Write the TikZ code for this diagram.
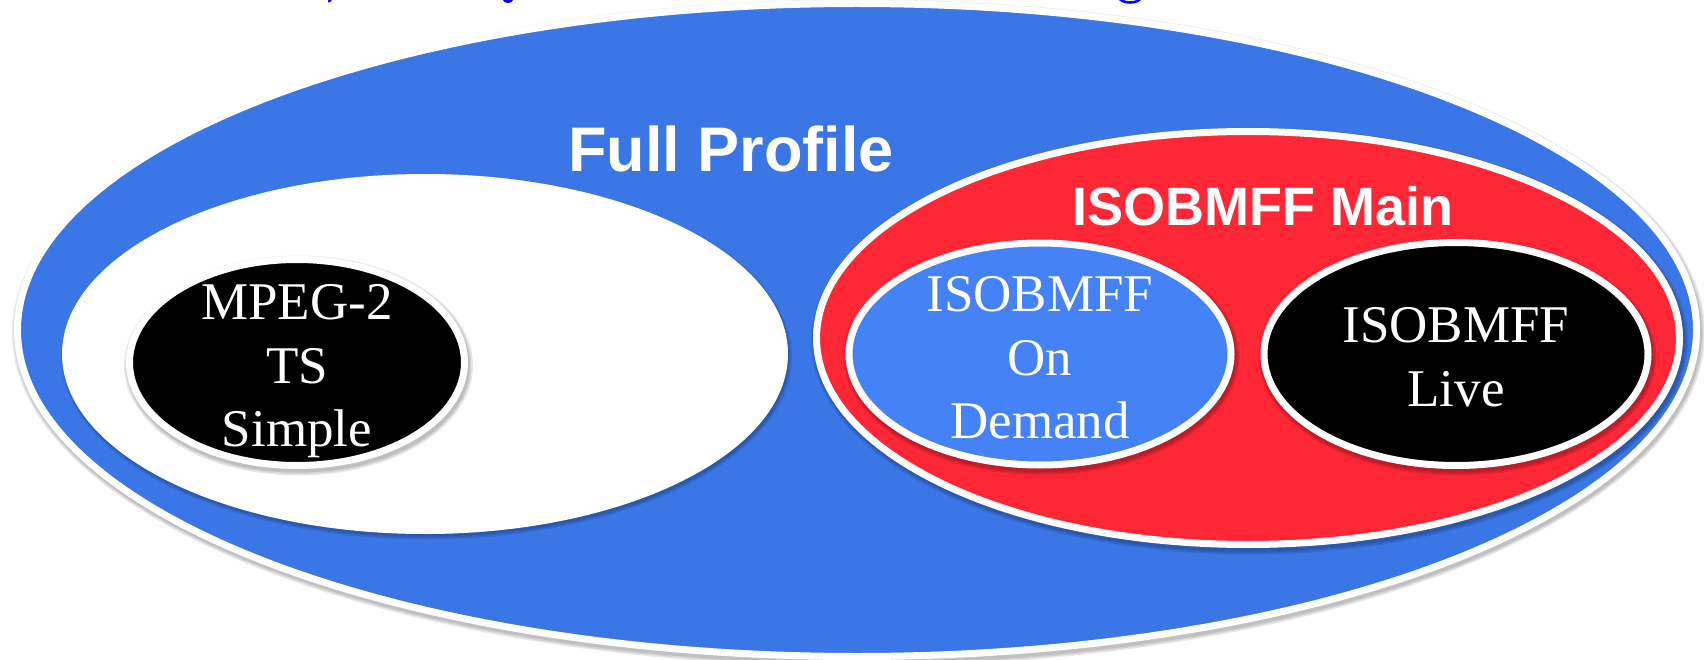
\documentclass[tikz,border=0pt]{standalone}
\usepackage{fontspec}
\setmainfont{Liberation Serif}
\newfontfamily\headfont{Liberation Sans}
\usetikzlibrary{shapes.geometric}

\definecolor{outerblue}{RGB}{58,118,230}
\definecolor{mainred}{RGB}{255,38,54}
\definecolor{demandblue}{RGB}{69,129,247}
\definecolor{titleblue}{RGB}{10,10,240}

% soft shadow under an ellipse: centre x, centre y, outer x radius, outer y radius
\newcommand\softshade[4]{%
  \foreach \g in {0.5,2,3.5}{%
    \fill[black, opacity=0.09] (#1+1.5,#2+3) ellipse [x radius=#3+\g, y radius=#4+\g];}}

\tikzset{
  region/.style={ellipse, inner sep=0pt, outer sep=0pt, draw=white, line width=7pt},
  labeltext/.style={text=white, align=center, inner sep=0pt,
    font=\fontsize{53}{63.5}\selectfont},
  headtext/.style={text=white, inner sep=0pt, anchor=base,
    font=\headfont\bfseries\fontsize{63}{70}\selectfont},
}

\begin{document}
\begin{tikzpicture}[x=1pt, y=-1pt]
\useasboundingbox (0,0) rectangle (1704,660);

% heading line above, cut off by the top edge
\begin{scope}
  \clip (0,0) rectangle (1704,10);
  \draw[titleblue, line width=2.5pt, line cap=round] (332,-2) -- (329,1.5);
  \fill[titleblue] (508,0) ellipse [x radius=5, y radius=3];
  \draw[titleblue, line width=2.6pt] (1130,-3) ellipse [x radius=11, y radius=5.5];
\end{scope}

% full profile
\softshade{857}{330}{843}{330}
\node[region, fill=outerblue, minimum width=1679pt, minimum height=653pt] (full) at (857,330) {};
\softshade{425}{354}{362}{179}
\node[ellipse, inner sep=0pt, fill=white, minimum width=726pt, minimum height=360pt] (simplezone) at (425,354) {};
\node[headtext] (fulltitle) at (731,172) {Full Profile};

% MPEG-2 TS simple
\softshade{297}{362.5}{171}{106.5}
\node[region, fill=black, minimum width=335pt, minimum height=206pt] (mpeg) at (297,362.5) {};
\node[labeltext] (mpeglabel) at (297,371.5) {MPEG-2\\TS\\Simple};

% ISOBMFF main
\softshade{1248}{338}{435}{210}
\node[region, fill=mainred, minimum width=863pt, minimum height=413pt] (main) at (1248,338) {};
\node[headtext, font=\headfont\bfseries\fontsize{54}{60}\selectfont] (maintitle) at (1263,226) {ISOBMFF Main};

% on demand and live
\softshade{1040}{354}{194.5}{114.5}
\node[region, fill=demandblue, minimum width=382pt, minimum height=222pt] (ondemand) at (1040,354) {};
\node[labeltext] (ondemandlabel) at (1040,358) {ISOBMFF\\On\\Demand};
\softshade{1456}{354}{195.5}{115}
\node[region, fill=black, minimum width=384pt, minimum height=223pt] (live) at (1456,354) {};
\node[labeltext] (livelabel) at (1456,357) {ISOBMFF\\Live};
\end{tikzpicture}
\end{document}
